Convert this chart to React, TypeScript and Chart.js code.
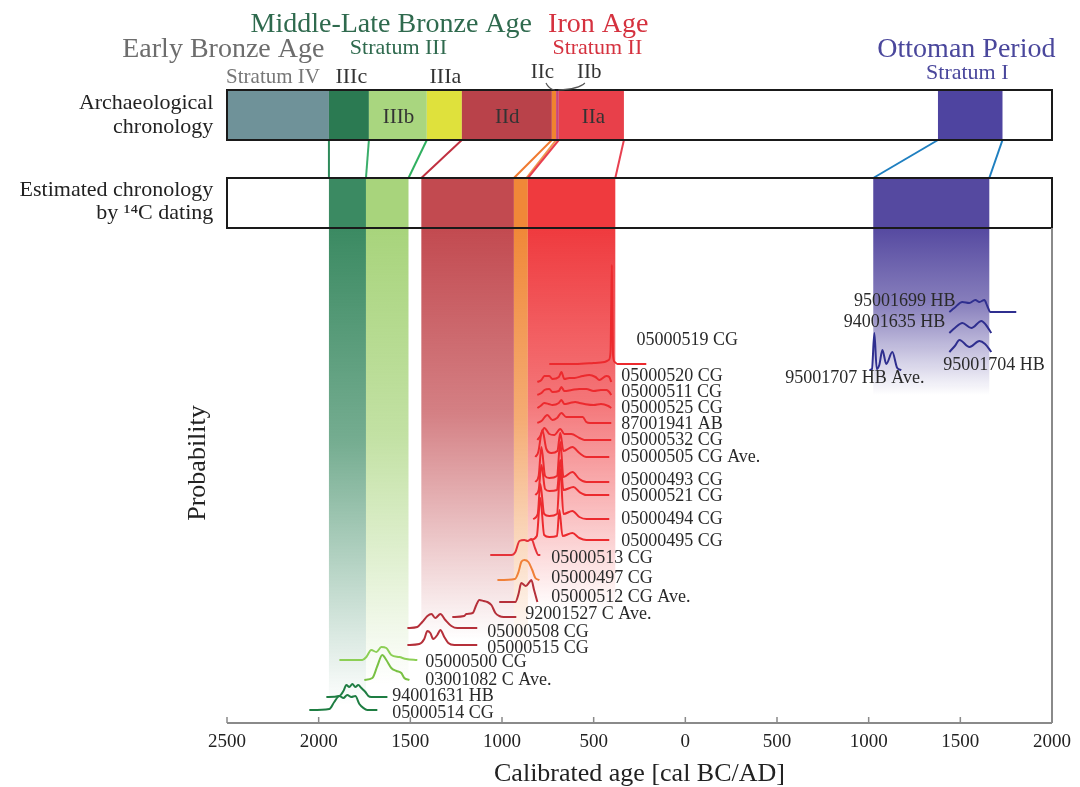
import { useEffect, useRef } from 'react';
import { Chart, registerables } from 'chart.js';

Chart.register(...registerables);

const FONT = '"Liberation Serif", "Times New Roman", serif';

// ---------- axis ----------
const xMin = -2500;
const xMax = 2000;
const xStep = 500;
const yMax = 495;

// ---------- archaeological chronology (years, BC negative) ----------
const archNames = ['IV', 'IIIc', 'IIIb', 'IIIa', 'IId', 'IIc', 'IIb', 'IIa', 'I'];
const archStart = [-2500, -1944, -1726, -1410, -1219, -728, -705, -690, 1378];
const archEnd = [-1944, -1726, -1410, -1219, -728, -705, -690, -335, 1730];
const archColors = ['#6f9299', '#2b7a52', '#a9d67f', '#dfe13c', '#b9424a', '#f0842f', '#c8467a', '#e8404a', '#4e44a0'];

// ---------- estimated chronology by 14C ----------
const estStart = [-1944, -1742, -1440, -935, -859, 1025];
const estEnd = [-1742, -1510, -935, -859, -382, 1658];
const estFadeLevel = [18, 38, 83, 73, 113, 328];
const estColors = ['#3b8a62', '#a8d47c', '#c24a50', '#f08838', '#ef3a3e', '#5549a0'];

// ---------- links between the two chronologies ----------
const linkArch = [-1944, -1726, -1410, -1219, -728, -705, -690, -335, 1378, 1730];
const linkEst = [-1944, -1742, -1510, -1440, -935, -867, -859, -382, 1025, 1658];
const linkColors = ['#2e8a5a', '#3aae6a', '#30b060', '#c03040', '#f07a30', '#f09a50', '#e84050', '#e84050', '#1f7fc0', '#1f7fc0'];

// ---------- probability curves: [calendar year, relative probability] ----------
const c05000519: [number, number][] = [[-742, 0], [-600, 0], [-500, 1], [-440, 2], [-418, 4], [-408, 12], [-404, 60], [-401, 99], [-398, 60], [-394, 8], [-385, 2], [-370, 0], [-213, 0]];
const c05000520: [number, number][] = [[-807, 0], [-785, 2], [-769, 6], [-742, 6], [-725, 3], [-690, 5], [-676, 10], [-660, 3], [-633, 4], [-605, 4], [-560, 6], [-524, 7], [-490, 5], [-469, 2], [-431, 6], [-415, 5], [-404, 0]];
const c05000511: [number, number][] = [[-807, 0], [-785, 2], [-769, 5], [-742, 6], [-725, 3], [-690, 4], [-676, 8], [-660, 4], [-620, 5], [-578, 6], [-540, 6], [-500, 4], [-460, 5], [-430, 5], [-415, 3], [-404, 0]];
const c05000525: [number, number][] = [[-807, 0], [-790, 2], [-769, 5], [-745, 4], [-725, 3], [-690, 5], [-676, 8], [-660, 4], [-630, 5], [-600, 6], [-578, 5], [-550, 4], [-500, 3], [-460, 4], [-420, 2], [-404, 0]];
const c87001941: [number, number][] = [[-807, 0], [-785, 2], [-753, 8], [-725, 3], [-700, 5], [-676, 10], [-650, 6], [-600, 6], [-560, 6], [-540, 1], [-520, 0], [-404, 0]];
const c05000532: [number, number][] = [[-807, 0], [-791, 4], [-769, 12], [-742, 6], [-715, 5], [-682, 11], [-660, 6], [-622, 6], [-578, 2], [-551, 0], [-404, 0]];
const c05000505: [number, number][] = [[-818, 0], [-802, 5], [-780, 27], [-758, 8], [-731, 4], [-698, 6], [-682, 24], [-665, 6], [-616, 10], [-578, 4], [-540, 0], [-415, 0]];
const c05000493: [number, number][] = [[-818, 0], [-800, 6], [-785, 35], [-765, 6], [-742, 4], [-700, 6], [-682, 40], [-665, 5], [-616, 10], [-578, 3], [-540, 0], [-415, 0]];
const c05000521: [number, number][] = [[-818, 0], [-800, 5], [-785, 30], [-765, 6], [-742, 4], [-700, 5], [-682, 35], [-665, 5], [-610, 8], [-578, 3], [-540, 0], [-415, 0]];
const c05000494: [number, number][] = [[-830, 0], [-805, 5], [-791, 35], [-770, 5], [-742, 3], [-700, 5], [-682, 50], [-665, 5], [-616, 8], [-578, 2], [-540, 0], [-415, 0]];
const c05000495: [number, number][] = [[-845, 0], [-810, 4], [-791, 42], [-770, 5], [-742, 3], [-700, 4], [-687, 30], [-670, 4], [-616, 7], [-578, 2], [-540, 0], [-415, 0]];
const c05000513: [number, number][] = [[-1064, 0], [-949, 0], [-927, 3], [-905, 14], [-878, 15], [-860, 14], [-840, 16], [-818, 6], [-802, 0], [-791, 0]];
const c05000497: [number, number][] = [[-1025, 0], [-930, 1], [-910, 8], [-895, 18], [-878, 20], [-856, 18], [-835, 10], [-818, 2], [-796, 0]];
const c05000512: [number, number][] = [[-1015, 0], [-927, 0], [-910, 8], [-895, 19], [-870, 16], [-850, 20], [-840, 22], [-825, 12], [-807, 0]];
const c92001527: [number, number][] = [[-1271, 0], [-1206, 1], [-1195, 3], [-1160, 4], [-1140, 12], [-1124, 17], [-1100, 16], [-1080, 15], [-1058, 12], [-1036, 4], [-1015, 1], [-990, 0], [-922, 0]];
const c05000508: [number, number][] = [[-1516, 0], [-1462, 1], [-1435, 6], [-1407, 12], [-1385, 14], [-1364, 10], [-1336, 14], [-1309, 8], [-1276, 2], [-1244, 0], [-1135, 0]];
const c05000515: [number, number][] = [[-1516, 0], [-1451, 1], [-1424, 6], [-1407, 14], [-1391, 12], [-1375, 6], [-1353, 10], [-1336, 15], [-1315, 8], [-1293, 2], [-1260, 0], [-1135, 0]];
const c05000500: [number, number][] = [[-1887, 0], [-1762, 0], [-1740, 3], [-1713, 10], [-1685, 8], [-1658, 13], [-1631, 12], [-1604, 5], [-1560, 3], [-1522, 1], [-1462, 0]];
const c03001082: [number, number][] = [[-1751, 0], [-1707, 2], [-1680, 14], [-1653, 25], [-1631, 20], [-1604, 12], [-1576, 9], [-1549, 7], [-1533, 2], [-1505, 0]];
const c94001631: [number, number][] = [[-1958, 0], [-1887, 1], [-1865, 6], [-1849, 12], [-1833, 10], [-1816, 13], [-1800, 10], [-1784, 12], [-1767, 9], [-1745, 5], [-1729, 1], [-1713, 0], [-1625, 0]];
const c05000514: [number, number][] = [[-2051, 0], [-1942, 1], [-1915, 8], [-1887, 14], [-1865, 12], [-1844, 15], [-1822, 13], [-1800, 14], [-1778, 6], [-1756, 2], [-1735, 0], [-1680, 0]];
const c95001699: [number, number][] = [[1440, 0], [1467, 4], [1511, 10], [1549, 9], [1582, 12], [1604, 10], [1631, 12], [1647, 6], [1664, 0], [1805, 0]];
const c94001635: [number, number][] = [[1440, 0], [1470, 5], [1511, 10], [1560, 5], [1615, 12], [1640, 8], [1669, 0]];
const c95001704: [number, number][] = [[1440, 0], [1470, 6], [1495, 12], [1550, 5], [1604, 11], [1635, 8], [1669, 0]];
const c95001707: [number, number][] = [[1004, 0], [1018, 1], [1031, 37], [1044, 1], [1058, 5], [1075, 20], [1096, 6], [1129, 18], [1156, 2], [1178, 0]];

const sampleNames = [
  '05000519 CG', '05000520 CG', '05000511 CG', '05000525 CG', '87001941 AB', '05000532 CG',
  '05000505 CG Ave.', '05000493 CG', '05000521 CG', '05000494 CG', '05000495 CG',
  '05000513 CG', '05000497 CG', '05000512 CG Ave.', '92001527 C Ave.', '05000508 CG', '05000515 CG',
  '05000500 CG', '03001082 C Ave.', '94001631 HB', '05000514 CG',
  '95001699 HB', '94001635 HB', '95001704 HB', '95001707 HB Ave.',
];
const sampleCurves = [
  c05000519, c05000520, c05000511, c05000525, c87001941, c05000532,
  c05000505, c05000493, c05000521, c05000494, c05000495,
  c05000513, c05000497, c05000512, c92001527, c05000508, c05000515,
  c05000500, c03001082, c94001631, c05000514,
  c95001699, c94001635, c95001704, c95001707,
];
// vertical offset of each stacked curve
const sampleOffsets = [359, 341, 328, 315, 300, 283, 266, 241, 228, 204, 183, 168, 143, 121, 106, 95, 78, 63, 43, 26, 13, 411, 390, 371, 353];
const sampleColors = [
  '#ec2a2e', '#ec2a2e', '#ec2a2e', '#ec2a2e', '#ec2a2e', '#ec2a2e', '#ec2a2e', '#ec2a2e', '#ec2a2e', '#ec2a2e', '#ec2a2e',
  '#e5333a', '#f08038', '#b5303a', '#b5303a', '#b5303a', '#b5303a',
  '#8ccf55', '#79c143', '#1e7d42', '#1e7d42',
  '#2f2f8f', '#2f2f8f', '#2f2f8f', '#2f2f8f',
];
// label anchors (year, level, alignment)
const labelYears = [-267, -350, -350, -350, -350, -350, -350, -350, -350, -350, -350, -731, -731, -731, -873, -1080, -1080, -1418, -1418, -1598, -1598, 1473, 1418, 1407, 545];
const labelLevels = [383, 347, 331, 315, 299, 283, 266, 243, 227, 204, 182, 165, 145, 126, 109, 91, 75, 61, 43, 27, 10, 422, 401, 358, 345];
const labelAlign = ['left', 'left', 'left', 'left', 'left', 'left', 'left', 'left', 'left', 'left', 'left', 'left', 'left', 'left', 'left', 'left', 'left', 'left', 'left', 'left', 'left', 'right', 'right', 'left', 'left'];

// ---------- period headings ----------
const headTexts = ['Early Bronze Age', 'Middle-Late Bronze Age', 'Stratum III', 'Iron Age', 'Stratum II', 'Ottoman Period', 'Stratum I', 'Stratum IV', 'IIIc', 'IIIa', 'IIc', 'IIb', 'IIIb', 'IId', 'IIa'];
const headYears = [-2520, -1604, -1565, -475, -480, 1533, 1538, -2249, -1822, -1309, -780, -524, -1565, -971, -502];
const headLevels = [673, 698, 675, 698, 675, 673, 650, 646, 646, 646, 651, 651, 606, 606, 606];
const headSizes = [28, 28, 22, 28, 22, 28, 22, 21, 22, 22, 21, 21, 21, 21, 21];
const headColors = ['#6d6d6d', '#2f6a4e', '#2f6a4e', '#d5323f', '#d5323f', '#4a479c', '#4a479c', '#777777', '#333333', '#333333', '#333333', '#333333', '#333333', '#333333', '#333333'];

const rowTexts = ['Archaeological', 'chronology', 'Estimated chronology', 'by \u00b9\u2074C dating'];
const rowLevels = [620, 596, 533, 510];
const rowYear = -2575;

const yTitle = 'Probability';
const yTitleYear = -2655;
const yTitleLevel = 260;

const ARCH_BOX = [583, 633];
const EST_BOX = [495, 545];

function rgba(hex: string, a: number) {
  const n = parseInt(hex.slice(1), 16);
  return `rgba(${(n >> 16) & 255},${(n >> 8) & 255},${n & 255},${a})`;
}

function txt(ctx: CanvasRenderingContext2D, s: string, px: number, py: number, size: number, color: string, align: CanvasTextAlign) {
  ctx.font = `${size}px ${FONT}`;
  ctx.fillStyle = color;
  ctx.textAlign = align;
  ctx.textBaseline = 'middle';
  ctx.fillText(s, px, py);
}

const decor = {
  id: 'decor',
  beforeDatasetsDraw(chart: any) {
    const { ctx, chartArea, scales } = chart;
    const x = scales.x;
    const y = scales.y;
    ctx.save();
    const estTop = y.getPixelForValue(EST_BOX[1]);
    const estBot = y.getPixelForValue(EST_BOX[0]);
    // estimated bands, continued as fading columns in the plot
    estStart.forEach((s, i) => {
      const x0 = x.getPixelForValue(s);
      const x1 = x.getPixelForValue(estEnd[i]);
      ctx.fillStyle = estColors[i];
      ctx.fillRect(x0, estTop, x1 - x0, estBot - estTop);
      const fy = y.getPixelForValue(estFadeLevel[i]);
      const g = ctx.createLinearGradient(0, estBot, 0, fy);
      g.addColorStop(0, rgba(estColors[i], 1));
      g.addColorStop(0.45, rgba(estColors[i], 0.7));
      g.addColorStop(1, rgba(estColors[i], 0));
      ctx.fillStyle = g;
      ctx.fillRect(x0, estBot, x1 - x0, fy - estBot);
    });
    // archaeological bands
    const aTop = y.getPixelForValue(ARCH_BOX[1]);
    const aBot = y.getPixelForValue(ARCH_BOX[0]);
    archStart.forEach((s, i) => {
      const x0 = x.getPixelForValue(s);
      const x1 = x.getPixelForValue(archEnd[i]);
      ctx.fillStyle = archColors[i];
      ctx.fillRect(x0, aTop, x1 - x0, aBot - aTop);
    });
    // links
    ctx.lineWidth = 2;
    linkArch.forEach((a, i) => {
      ctx.strokeStyle = linkColors[i];
      ctx.beginPath();
      ctx.moveTo(x.getPixelForValue(a), aBot);
      ctx.lineTo(x.getPixelForValue(linkEst[i]), estTop);
      ctx.stroke();
    });
    // box outlines
    ctx.strokeStyle = '#1a1a1a';
    ctx.lineWidth = 2;
    const L = chartArea.left;
    const R = chartArea.right;
    ctx.strokeRect(L, aTop, R - L, aBot - aTop);
    ctx.strokeRect(L, estTop, R - L, estBot - estTop);
    // right frame + axis line + inner ticks
    ctx.strokeStyle = '#8a8a8a';
    ctx.beginPath();
    ctx.moveTo(R, chartArea.top);
    ctx.lineTo(R, chartArea.bottom);
    ctx.moveTo(L, chartArea.bottom);
    ctx.lineTo(R, chartArea.bottom);
    ctx.stroke();
    ctx.lineWidth = 1.5;
    x.ticks.forEach((t: any) => {
      const px = x.getPixelForValue(t.value);
      ctx.beginPath();
      ctx.moveTo(px, chartArea.bottom);
      ctx.lineTo(px, chartArea.bottom - 6);
      ctx.stroke();
    });
    // leader lines for IIc / IIb
    ctx.strokeStyle = '#555555';
    ctx.lineWidth = 1.2;
    ctx.beginPath();
    ctx.moveTo(x.getPixelForValue(-760), y.getPixelForValue(640));
    ctx.quadraticCurveTo(x.getPixelForValue(-745), y.getPixelForValue(634), x.getPixelForValue(-712), y.getPixelForValue(633));
    ctx.moveTo(x.getPixelForValue(-548), y.getPixelForValue(640));
    ctx.quadraticCurveTo(x.getPixelForValue(-580), y.getPixelForValue(634), x.getPixelForValue(-693), y.getPixelForValue(633));
    ctx.stroke();
    // headings
    headTexts.forEach((s, i) => {
      txt(ctx, s, x.getPixelForValue(headYears[i]), y.getPixelForValue(headLevels[i]), headSizes[i], headColors[i], 'center');
    });
    rowTexts.forEach((s, i) => {
      txt(ctx, s, x.getPixelForValue(rowYear), y.getPixelForValue(rowLevels[i]), 22, '#222222', 'right');
    });
    // y-axis title
    ctx.save();
    ctx.translate(x.getPixelForValue(yTitleYear), y.getPixelForValue(yTitleLevel));
    ctx.rotate(-Math.PI / 2);
    txt(ctx, yTitle, 0, 0, 26, '#222222', 'center');
    ctx.restore();
    ctx.restore();
  },
  afterDatasetsDraw(chart: any) {
    const { ctx, scales } = chart;
    ctx.save();
    sampleNames.forEach((s, i) => {
      txt(ctx, s, scales.x.getPixelForValue(labelYears[i]), scales.y.getPixelForValue(labelLevels[i]), 18, '#2a2a2a', labelAlign[i] as CanvasTextAlign);
    });
    ctx.restore();
  },
};

export default function App() {
  const ref = useRef<HTMLCanvasElement | null>(null);
  useEffect(() => {
    document.body.style.margin = '0';
    const datasets = sampleCurves.map((c, i) => ({
      label: sampleNames[i],
      data: c.map(([yr, p]) => ({ x: yr, y: sampleOffsets[i] + p })),
      borderColor: sampleColors[i],
      borderWidth: 2,
      pointRadius: 0,
      fill: false,
      cubicInterpolationMode: 'monotone' as const,
    }));
    const chart = new Chart(ref.current as HTMLCanvasElement, {
      type: 'line',
      data: { datasets },
      plugins: [decor],
      options: {
        responsive: false,
        animation: false,
        devicePixelRatio: 1,
        layout: { padding: { top: 228, right: 28, left: 0, bottom: 0 } },
        plugins: { legend: { display: false }, tooltip: { enabled: false } },
        scales: {
          x: {
            type: 'linear',
            min: xMin,
            max: xMax,
            afterFit: (s: any) => { s.height = 64; },
            ticks: {
              stepSize: xStep,
              autoSkip: false,
              maxRotation: 0,
              padding: 8,
              color: '#222222',
              font: { family: FONT, size: 19 },
              callback: (v: any) => String(Math.abs(Number(v))),
            },
            grid: { display: false, drawTicks: false },
            border: { display: false },
            title: {
              display: true,
              text: 'Calibrated age [cal BC/AD]',
              color: '#222222',
              font: { family: FONT, size: 26, lineHeight: 1 },
              padding: { top: 0, bottom: 0 },
            },
          },
          y: {
            type: 'linear',
            min: 0,
            max: yMax,
            afterFit: (s: any) => { s.width = 227; },
            ticks: { display: false },
            grid: { display: false },
            border: { display: false },
            title: { display: false },
          },
        },
      },
    });
    return () => chart.destroy();
  }, []);
  return <canvas ref={ref} width={1080} height={787} style={{ display: 'block' }} />;
}
